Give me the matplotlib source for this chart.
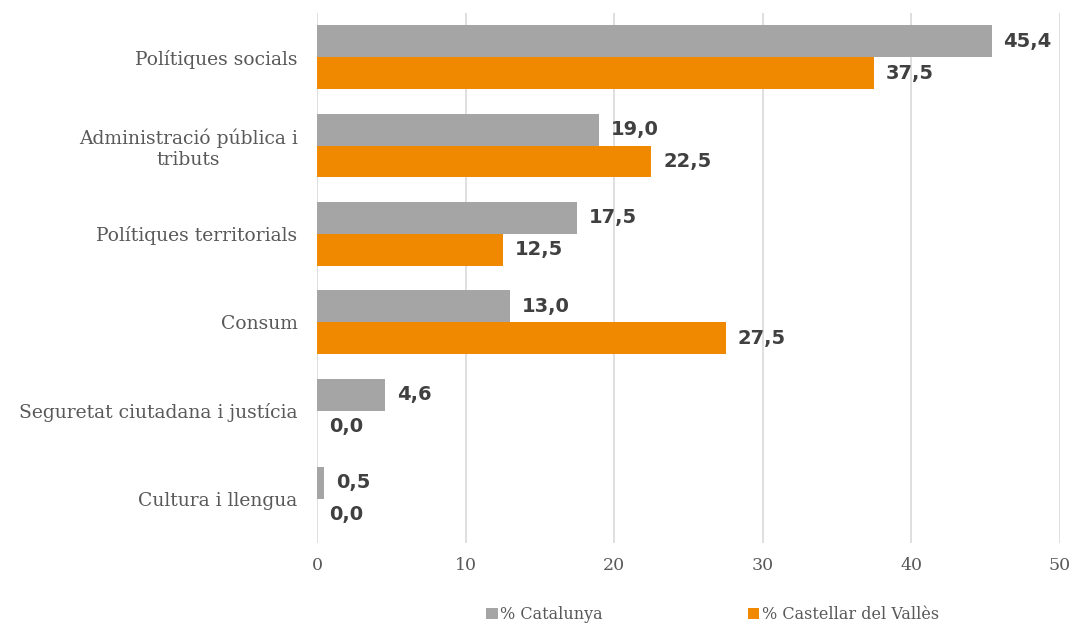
import matplotlib
matplotlib.use('Agg')
import matplotlib.pyplot as plt
import numpy as np

# Dades
categories = ['Polítiques socials', 'Administració pública i\ntributs',
              'Polítiques territorials', 'Consum',
              'Seguretat ciutadana i justícia', 'Cultura i llengua']
catalunya = [45.4, 19.0, 17.5, 13.0, 4.6, 0.5]
castellar = [37.5, 22.5, 12.5, 27.5, 0.0, 0.0]
series_names = ['% Catalunya', '% Castellar del Vallès']

GRAY = '#a5a5a5'
ORANGE = '#f08800'
TEXT = '#595959'
LABEL_FONT = 'DejaVu Serif'

fig = plt.figure(figsize=(10.8, 6.25), dpi=100)
ax = fig.add_axes([317 / 1080, 82 / 625, 743 / 1080, 530 / 625])

y = np.arange(len(categories))
h = 0.36
b1 = ax.barh(y - h / 2, catalunya, height=h, color=GRAY, label=series_names[0])
b2 = ax.barh(y + h / 2, castellar, height=h, color=ORANGE, label=series_names[1])

# Etiquetes de valor
for bars, vals in ((b1, catalunya), (b2, castellar)):
    for bar, v in zip(bars, vals):
        ax.text(v + 0.8, bar.get_y() + bar.get_height() / 2,
                f'{v:.1f}'.replace('.', ','), va='center', ha='left',
                fontsize=14, fontweight='bold', color='#404040',
                family='DejaVu Sans')

ax.set_xlim(0, 50)
ax.set_ylim(len(categories) - 0.5, -0.5)
ax.set_yticks(y)
ax.set_yticklabels(categories, fontsize=13.5, color=TEXT, family=LABEL_FONT,
                   ha='right', multialignment='center')
ax.tick_params(axis='y', length=0, pad=14)
ax.set_xticks(np.arange(0, 51, 10))
ax.tick_params(axis='x', length=0, labelsize=12.5, labelcolor=TEXT, pad=10)
for lab in ax.get_xticklabels():
    lab.set_family(LABEL_FONT)

ax.grid(axis='x', color='#d9d9d9', linewidth=1.2)
ax.set_axisbelow(True)
for s in ax.spines.values():
    s.set_visible(False)

leg = fig.legend(handles=[b1, b2], loc='lower left', bbox_to_anchor=(472 / 1080, -0.02),
                 ncol=2, frameon=False, handlelength=0.7, handleheight=0.7,
                 handletextpad=0.15, columnspacing=9.1,
                 prop={'family': LABEL_FONT, 'size': 11.5})
for t in leg.get_texts():
    t.set_color(TEXT)

plt.savefig('out.png', dpi=100)
plt.close()
